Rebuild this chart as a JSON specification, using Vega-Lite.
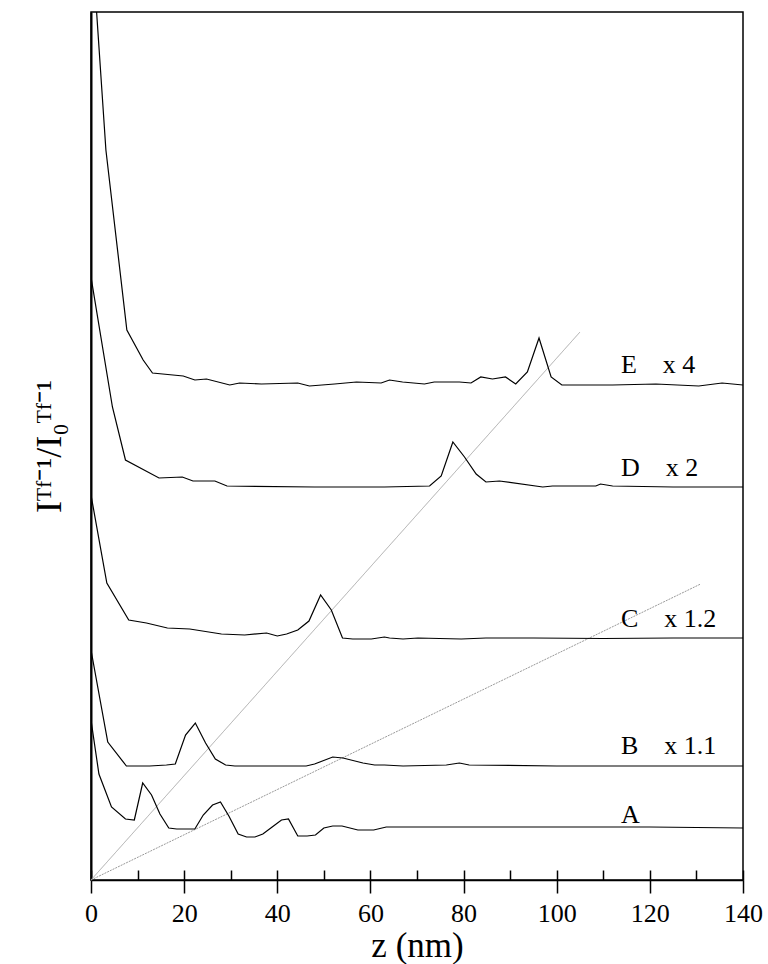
{
  "$schema": "https://vega.github.io/schema/vega-lite/v6.json",
  "width": 652,
  "height": 868,
  "autosize": {"type": "none"},
  "padding": {"left": 91, "top": 12, "right": 25, "bottom": 84},
  "background": "white",
  "config": {
    "view": {"stroke": "black", "strokeWidth": 1.5},
    "font": "Liberation Serif"
  },
  "resolve": {"axis": {"x": "independent"}},
  "datasets": {
    "diag": [
      {"line": "1", "z": 0, "v": 0},
      {"line": "1", "z": 105, "v": 548},
      {"line": "2", "z": 0, "v": 0},
      {"line": "2", "z": 130.9, "v": 296}
    ],
    "curves": [
      {"curve": "E", "z": 0, "v": 951},
      {"curve": "E", "z": 3.2, "v": 730},
      {"curve": "E", "z": 7.7, "v": 550},
      {"curve": "E", "z": 11.2, "v": 520},
      {"curve": "E", "z": 13.2, "v": 507},
      {"curve": "E", "z": 19.8, "v": 504},
      {"curve": "E", "z": 22.3, "v": 500},
      {"curve": "E", "z": 24.8, "v": 501},
      {"curve": "E", "z": 29.8, "v": 495},
      {"curve": "E", "z": 31.9, "v": 497},
      {"curve": "E", "z": 36.6, "v": 496},
      {"curve": "E", "z": 44.4, "v": 497},
      {"curve": "E", "z": 46.9, "v": 494},
      {"curve": "E", "z": 52.3, "v": 496},
      {"curve": "E", "z": 57, "v": 498},
      {"curve": "E", "z": 62.3, "v": 497},
      {"curve": "E", "z": 64.1, "v": 500},
      {"curve": "E", "z": 66.9, "v": 498},
      {"curve": "E", "z": 71.6, "v": 496},
      {"curve": "E", "z": 73.7, "v": 498},
      {"curve": "E", "z": 79.1, "v": 498},
      {"curve": "E", "z": 81.6, "v": 497},
      {"curve": "E", "z": 83.7, "v": 503},
      {"curve": "E", "z": 86.2, "v": 501},
      {"curve": "E", "z": 89, "v": 503},
      {"curve": "E", "z": 91.2, "v": 496},
      {"curve": "E", "z": 93.7, "v": 508},
      {"curve": "E", "z": 96.2, "v": 542},
      {"curve": "E", "z": 98.8, "v": 503},
      {"curve": "E", "z": 101.1, "v": 495},
      {"curve": "E", "z": 112, "v": 495},
      {"curve": "E", "z": 121.3, "v": 496},
      {"curve": "E", "z": 130.5, "v": 494},
      {"curve": "E", "z": 135.5, "v": 497},
      {"curve": "E", "z": 140, "v": 495},
      {"curve": "D", "z": 0, "v": 603},
      {"curve": "D", "z": 4.6, "v": 473},
      {"curve": "D", "z": 7.4, "v": 420},
      {"curve": "D", "z": 14.6, "v": 402},
      {"curve": "D", "z": 19.6, "v": 403},
      {"curve": "D", "z": 21.9, "v": 399},
      {"curve": "D", "z": 26.6, "v": 399},
      {"curve": "D", "z": 29.2, "v": 394},
      {"curve": "D", "z": 48, "v": 393},
      {"curve": "D", "z": 63, "v": 393},
      {"curve": "D", "z": 72.7, "v": 394},
      {"curve": "D", "z": 75.2, "v": 404},
      {"curve": "D", "z": 77.7, "v": 438},
      {"curve": "D", "z": 80.2, "v": 423},
      {"curve": "D", "z": 82.7, "v": 406},
      {"curve": "D", "z": 84.8, "v": 398},
      {"curve": "D", "z": 87.7, "v": 399},
      {"curve": "D", "z": 97, "v": 393},
      {"curve": "D", "z": 99.1, "v": 394},
      {"curve": "D", "z": 108.4, "v": 394},
      {"curve": "D", "z": 109.4, "v": 396},
      {"curve": "D", "z": 112, "v": 394},
      {"curve": "D", "z": 125, "v": 393},
      {"curve": "D", "z": 140, "v": 393},
      {"curve": "C", "z": 0, "v": 385},
      {"curve": "C", "z": 3.4, "v": 297},
      {"curve": "C", "z": 8.1, "v": 260},
      {"curve": "C", "z": 11.9, "v": 257},
      {"curve": "C", "z": 16.4, "v": 252},
      {"curve": "C", "z": 21.2, "v": 251},
      {"curve": "C", "z": 28, "v": 246},
      {"curve": "C", "z": 33, "v": 245},
      {"curve": "C", "z": 37.7, "v": 247},
      {"curve": "C", "z": 40, "v": 244},
      {"curve": "C", "z": 42, "v": 246},
      {"curve": "C", "z": 44.4, "v": 250},
      {"curve": "C", "z": 46.8, "v": 259},
      {"curve": "C", "z": 49.3, "v": 285},
      {"curve": "C", "z": 51.6, "v": 270},
      {"curve": "C", "z": 54, "v": 242},
      {"curve": "C", "z": 56.2, "v": 241},
      {"curve": "C", "z": 60.2, "v": 241},
      {"curve": "C", "z": 63, "v": 243},
      {"curve": "C", "z": 64.1, "v": 242},
      {"curve": "C", "z": 67, "v": 241},
      {"curve": "C", "z": 70.2, "v": 242},
      {"curve": "C", "z": 79.5, "v": 241},
      {"curve": "C", "z": 84.8, "v": 242},
      {"curve": "C", "z": 95, "v": 242},
      {"curve": "C", "z": 110, "v": 241.5},
      {"curve": "C", "z": 125, "v": 242},
      {"curve": "C", "z": 140, "v": 242},
      {"curve": "B", "z": 0, "v": 230},
      {"curve": "B", "z": 3.6, "v": 138},
      {"curve": "B", "z": 7.6, "v": 114},
      {"curve": "B", "z": 12.6, "v": 114},
      {"curve": "B", "z": 16.2, "v": 115},
      {"curve": "B", "z": 18.1, "v": 116},
      {"curve": "B", "z": 20.3, "v": 145},
      {"curve": "B", "z": 22.4, "v": 157},
      {"curve": "B", "z": 24.6, "v": 137},
      {"curve": "B", "z": 26.7, "v": 121},
      {"curve": "B", "z": 28.9, "v": 115},
      {"curve": "B", "z": 30.9, "v": 114},
      {"curve": "B", "z": 46.2, "v": 114},
      {"curve": "B", "z": 48, "v": 116},
      {"curve": "B", "z": 51.9, "v": 123},
      {"curve": "B", "z": 54.1, "v": 122},
      {"curve": "B", "z": 58.4, "v": 117},
      {"curve": "B", "z": 60.9, "v": 115},
      {"curve": "B", "z": 63, "v": 115},
      {"curve": "B", "z": 67, "v": 114},
      {"curve": "B", "z": 76.3, "v": 115},
      {"curve": "B", "z": 79.1, "v": 117},
      {"curve": "B", "z": 81.2, "v": 115},
      {"curve": "B", "z": 100, "v": 114},
      {"curve": "B", "z": 140, "v": 114},
      {"curve": "A", "z": 0, "v": 160},
      {"curve": "A", "z": 1.7, "v": 106},
      {"curve": "A", "z": 4.4, "v": 73},
      {"curve": "A", "z": 7.4, "v": 61},
      {"curve": "A", "z": 9.3, "v": 60},
      {"curve": "A", "z": 11.1, "v": 97},
      {"curve": "A", "z": 13, "v": 85},
      {"curve": "A", "z": 14.8, "v": 66},
      {"curve": "A", "z": 16.7, "v": 52},
      {"curve": "A", "z": 18.4, "v": 51},
      {"curve": "A", "z": 22.3, "v": 51},
      {"curve": "A", "z": 24.1, "v": 65},
      {"curve": "A", "z": 26.1, "v": 75},
      {"curve": "A", "z": 27.8, "v": 78},
      {"curve": "A", "z": 29.6, "v": 64},
      {"curve": "A", "z": 31.6, "v": 46},
      {"curve": "A", "z": 33.4, "v": 43},
      {"curve": "A", "z": 35.2, "v": 43},
      {"curve": "A", "z": 36.9, "v": 46},
      {"curve": "A", "z": 38.9, "v": 53},
      {"curve": "A", "z": 40.9, "v": 60},
      {"curve": "A", "z": 42.4, "v": 61},
      {"curve": "A", "z": 44.4, "v": 44},
      {"curve": "A", "z": 46.4, "v": 44},
      {"curve": "A", "z": 48.2, "v": 45},
      {"curve": "A", "z": 50, "v": 52},
      {"curve": "A", "z": 51.9, "v": 54},
      {"curve": "A", "z": 53.9, "v": 54},
      {"curve": "A", "z": 57.3, "v": 50},
      {"curve": "A", "z": 60.7, "v": 50},
      {"curve": "A", "z": 63.4, "v": 53},
      {"curve": "A", "z": 80, "v": 53},
      {"curve": "A", "z": 100, "v": 53},
      {"curve": "A", "z": 120, "v": 53},
      {"curve": "A", "z": 140, "v": 52}
    ],
    "labels": [
      {"z": 113.8, "v": 506.7, "text": "E\u00a0\u00a0\u00a0\u00a0x 4"},
      {"z": 113.8, "v": 404, "text": "D\u00a0\u00a0\u00a0\u00a0x 2"},
      {"z": 113.8, "v": 253.3, "text": "C\u00a0\u00a0\u00a0\u00a0x 1.2"},
      {"z": 113.8, "v": 126, "text": "B\u00a0\u00a0\u00a0\u00a0x 1.1"},
      {"z": 113.8, "v": 57.3, "text": "A"}
    ]
  },
  "layer": [
    {
      "data": {"name": "diag"},
      "mark": {"type": "line", "strokeWidth": 1},
      "encoding": {
        "x": {
          "field": "z",
          "type": "quantitative",
          "axis": {
            "orient": "top",
            "offset": -868,
            "values": [0, 10, 20, 30, 40, 50, 60, 70, 80, 90, 100, 110, 120, 130, 140],
            "labels": false,
            "domain": false,
            "grid": false,
            "title": null,
            "tickSize": 10,
            "tickColor": "black",
            "tickWidth": 1.5
          }
        },
        "y": {"field": "v", "type": "quantitative"},
        "color": {"field": "line", "type": "nominal", "scale": {"domain": ["1", "2"], "range": ["#aaaaaa", "#999999"]}, "legend": null},
        "strokeDash": {"field": "line", "type": "nominal", "scale": {"domain": ["1", "2"], "range": [[1, 0], [2, 1]]}, "legend": null}
      }
    },
    {
      "layer": [
        {
          "data": {"name": "curves"},
          "mark": {"type": "line", "color": "black", "strokeWidth": 1.2, "clip": true},
          "encoding": {
            "x": {
              "field": "z",
              "type": "quantitative",
              "scale": {"domain": [0, 140], "nice": false, "zero": false},
              "axis": {
                "orient": "bottom",
                "title": "z (nm)",
                "values": [0, 20, 40, 60, 80, 100, 120, 140],
                "tickSize": 13,
                "tickColor": "black",
                "tickWidth": 1.5,
                "domainColor": "black",
                "domainWidth": 1.5,
                "grid": false,
                "labelFont": "Liberation Serif",
                "labelFontSize": 26,
                "labelColor": "black",
                "labelPadding": 7,
                "labelFlush": false,
                "labelOverlap": false,
                "titleFont": "Liberation Serif",
                "titleFontSize": 35,
                "titleFontWeight": "normal",
                "titleColor": "black",
                "titleBaseline": "alphabetic",
                "titleAlign": "center",
                "titleX": 326,
                "titleY": 76
              }
            },
            "y": {
              "field": "v",
              "type": "quantitative",
              "scale": {"domain": [0, 868], "nice": false, "zero": false},
              "axis": {
                "title": "I\u1d40\u1da0\u207b\u00b9/I\u2080\u1d40\u1da0\u207b\u00b9",
                "labels": false,
                "ticks": false,
                "grid": false,
                "domainColor": "black",
                "domainWidth": 2,
                "titleFont": "Liberation Serif",
                "titleFontSize": 36,
                "titleFontWeight": "normal",
                "titleColor": "black",
                "titleAngle": -90,
                "titleAlign": "center",
                "titleBaseline": "alphabetic",
                "titleX": -31,
                "titleY": 434
              }
            },
            "detail": {"field": "curve", "type": "nominal"}
          }
        },
        {
          "data": {"name": "labels"},
          "mark": {"type": "text", "align": "left", "baseline": "alphabetic", "fontSize": 26, "font": "Liberation Serif", "color": "black"},
          "encoding": {
            "x": {"field": "z", "type": "quantitative"},
            "y": {"field": "v", "type": "quantitative"},
            "text": {"field": "text", "type": "nominal"}
          }
        }
      ]
    }
  ]
}
